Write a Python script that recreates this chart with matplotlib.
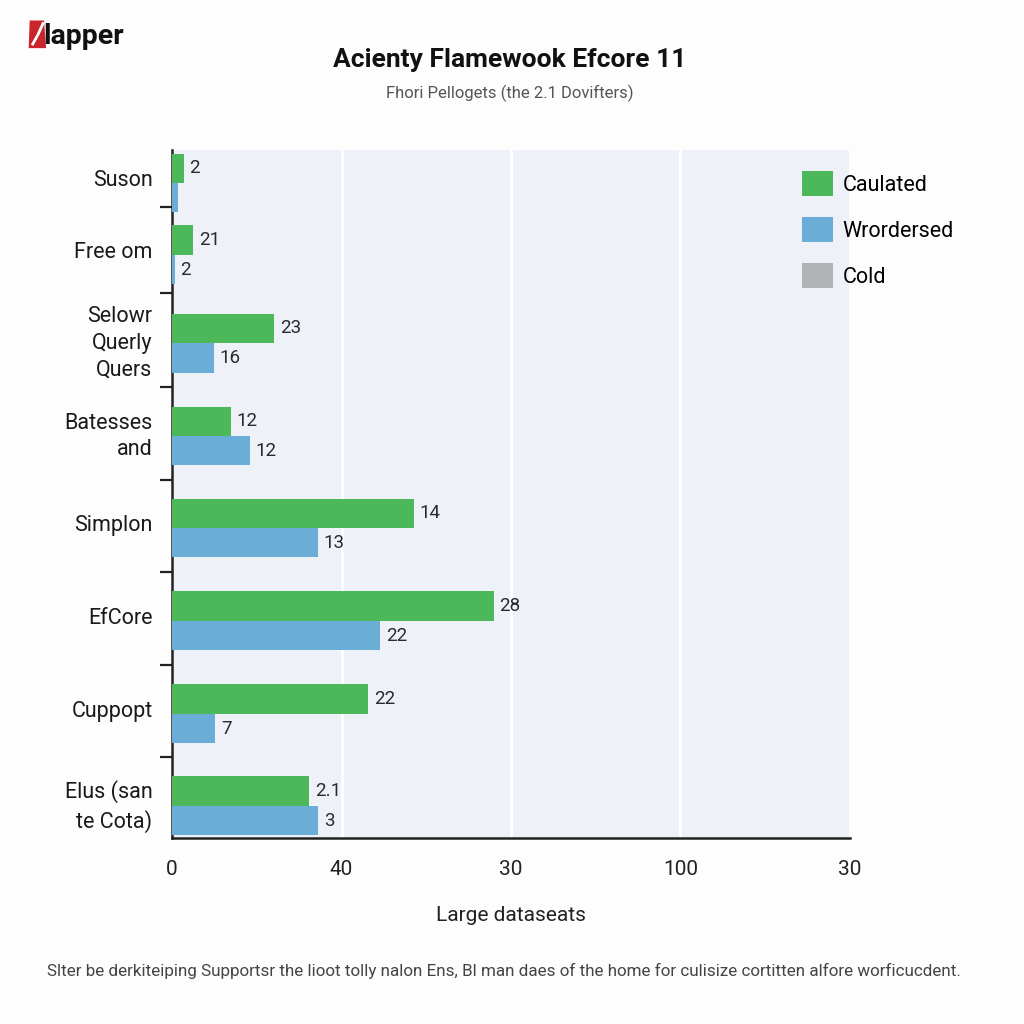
import matplotlib
matplotlib.use("Agg")
import matplotlib.pyplot as plt
from matplotlib.patches import Patch, Polygon
from matplotlib.lines import Line2D
from matplotlib.transforms import ScaledTranslation

plt.rcParams['font.family'] = ['Roboto', 'DejaVu Sans']

# ---- data ----
categories = ["Suson", "Free om", "Selowr\nQuerly\nQuers", "Batesses\nand",
              "Simplon", "EfCore", "Cuppopt", "Elus (san\nte Cota)"]
caulated = [2.8, 5.0, 24.1, 13.9, 57.0, 75.9, 46.3, 32.4]
wrordersed = [1.4, 0.7, 9.9, 18.4, 34.5, 49.2, 10.2, 34.5]
caulated_labels = ["2", "21", "23", "12", "14", "28", "22", "2.1"]
wrordersed_labels = ["", "2", "16", "12", "13", "22", "7", "3"]
series_names = ["Caulated", "Wrordersed", "Cold"]
xtick_values = [0, 40, 80, 120, 160]
xtick_labels = ["0", "40", "30", "100", "30"]

# ---- layout ----
group_pos = [0, 0.78, 1.74, 2.75, 3.75, 4.76, 5.77, 6.77]
separators = [0.26, 1.20, 2.22, 3.23, 4.23, 5.24, 6.24]
bar_h = 0.32
green = "#4cb859"
blue = "#6aaed8"
gray = "#b1b3b5"

fig = plt.figure(figsize=(10.24, 10.24), dpi=100, facecolor="#fdfdfd")
ax = fig.add_axes([0.168, 0.1816, 0.662, 0.672])
ax.set_facecolor("#eef2f8")

g_y = [p - bar_h / 2 for p in group_pos]
b_y = [p + bar_h / 2 for p in group_pos]
ax.barh(g_y, caulated, height=bar_h, color=green, zorder=3)
ax.barh(b_y, wrordersed, height=bar_h, color=blue, zorder=3)

for y, v, t in zip(g_y, caulated, caulated_labels):
    if t:
        ax.text(v + 1.3, y, t, va="center", ha="left", fontsize=13.5, color="#2a2a2a", zorder=4)
for y, v, t in zip(b_y, wrordersed, wrordersed_labels):
    if t:
        ax.text(v + 1.3, y, t, va="center", ha="left", fontsize=13.5, color="#2a2a2a", zorder=4)

ax.set_xlim(0, 160)
ax.set_ylim(7.12, -0.36)
ax.set_xticks(xtick_values)
ax.set_xticklabels(xtick_labels, fontsize=15, color="#222222")
ax.tick_params(axis="x", length=0, pad=16)
ax.xaxis.grid(True, color="white", linewidth=2, zorder=1)
ax.set_axisbelow(True)

ax.set_yticks(group_pos)
ax.set_yticklabels(categories, fontsize=15.5, color="#1a1a1a", linespacing=1.35)
ax.tick_params(axis="y", which="major", length=0, pad=14)
shift = ScaledTranslation(0, 5 / 100, fig.dpi_scale_trans)
for lbl in ax.get_yticklabels():
    lbl.set_transform(lbl.get_transform() + shift)
ax.set_yticks(separators, minor=True)
ax.tick_params(axis="y", which="minor", length=9, width=1.6, color="#222222")

for s in ["top", "right"]:
    ax.spines[s].set_visible(False)
for s in ["left", "bottom"]:
    ax.spines[s].set_color("#222222")
    ax.spines[s].set_linewidth(1.8)

ax.set_xlabel("Large dataseats", fontsize=15, color="#222222", labelpad=19)

handles = [Patch(facecolor=c, edgecolor="none") for c in [green, blue, gray]]
ax.legend(handles, series_names, loc="upper left", bbox_to_anchor=(0.930, 0.969),
          frameon=False, fontsize=15.5, handlelength=1.4, handleheight=1.4,
          labelspacing=0.98, handletextpad=0.45, borderpad=0, borderaxespad=0)

# titles
fig.text(0.498, 0.941, "Acienty Flamewook Efcore 11", ha="center", va="center",
         fontsize=19, fontweight="bold", color="#111111")
fig.text(0.498, 0.909, "Fhori Pellogets (the 2.1 Dovifters)", ha="center", va="center",
         fontsize=12, color="#555555")

# footer
fig.text(0.0459, 0.052, "Slter be derkiteiping Supportsr the lioot tolly nalon Ens, Bl man daes of the home for culisize cortitten alfore worficucdent.",
         ha="left", va="center", fontsize=12.25, color="#444444")

# logo
logo = Polygon([(0.028, 0.953), (0.045, 0.953), (0.043, 0.980), (0.029, 0.980)],
               closed=True, transform=fig.transFigure, facecolor="#c8262c", edgecolor="none")
fig.patches.append(logo)
fig.lines.append(Line2D([0.032, 0.037, 0.042], [0.957, 0.966, 0.977], transform=fig.transFigure,
                        color="white", linewidth=2))
fig.text(0.042, 0.964, "lapper", ha="left", va="center", fontsize=20.5, fontweight="bold",
         color="#111111")

fig.savefig("out.png", dpi=100, facecolor=fig.get_facecolor())
